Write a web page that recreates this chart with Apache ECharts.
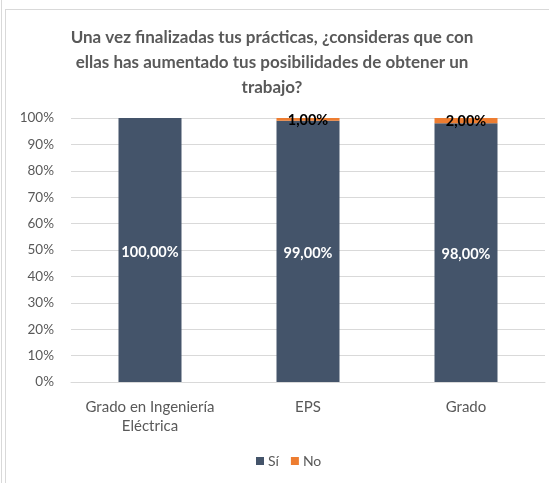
<!DOCTYPE html>
<html>
<head>
<meta charset="utf-8">
<script src="https://cdn.jsdelivr.net/npm/echarts@6/dist/echarts.min.js"></script>
<style>
  html, body { margin: 0; padding: 0; background: #fff; }
  #wrap { position: relative; width: 549px; height: 483px; }
  #chart { width: 549px; height: 483px; }
  .edge { position: absolute; background: #d9d9d9; pointer-events: none; }
</style>
</head>
<body>
<div id="wrap">
  <div id="chart"></div>
  <div class="edge" style="left:1px; top:0; width:1px; height:483px;"></div>
  <div class="edge" style="left:5px; top:9px; width:1px; height:474px;"></div>
  <div class="edge" style="left:5px; top:9px; width:544px; height:1px;"></div>
</div>
<script>
// valores
const categories = ['Grado en Ingeniería\nEléctrica', 'EPS', 'Grado']
const siValues = [100, 99, 98]
const noValues = [0, 1, 2]
const seriesNames = ['Sí', 'No']
const titleText = 'Una vez finalizadas tus prácticas, ¿consideras que con\nellas has aumentado tus posibilidades de obtener un\ntrabajo?'

const textColor = '#595959'
const fontFamily = 'Lato, "Open Sans", sans-serif'

// formato de etiqueta al estilo Excel: 99,00%
function pct(v) {
  if (!v) return ''
  return v.toFixed(2).replace('.', ',') + '%'
}

const chart = echarts.init(document.getElementById('chart'))

const option = {
  backgroundColor: 'transparent',
  animation: false,
  // título centrado línea a línea
  graphic: [{
    type: 'text',
    x: 272,
    y: 25,
    style: {
      text: titleText,
      align: 'center',
      verticalAlign: 'top',
      fontFamily: fontFamily,
      fontSize: 17,
      fontWeight: 'bold',
      lineHeight: 25,
      fill: textColor
    }
  }],
  legend: {
    data: seriesNames,
    left: 256,
    top: 454,
    padding: 0,
    itemWidth: 8,
    itemHeight: 8,
    itemGap: 12,
    icon: 'rect',
    textStyle: {
      fontFamily: fontFamily,
      fontSize: 14,
      color: textColor,
      padding: [0, 0, 0, -1]
    }
  },
  grid: {
    left: 71,
    right: 4,
    top: 118,
    height: 264
  },
  xAxis: {
    type: 'category',
    data: categories,
    axisLine: { show: true, lineStyle: { color: '#d9d9d9', width: 1 } },
    axisTick: { show: false },
    axisLabel: {
      interval: 0,
      margin: 16,
      fontFamily: fontFamily,
      fontSize: 15,
      lineHeight: 19,
      color: textColor
    }
  },
  yAxis: {
    type: 'value',
    min: 0,
    max: 100,
    interval: 10,
    axisLine: { show: false },
    axisTick: { show: false },
    splitLine: { lineStyle: { color: '#d9d9d9', width: 1 } },
    axisLabel: {
      formatter: '{value}%',
      margin: 17,
      fontFamily: fontFamily,
      fontSize: 13.5,
      color: textColor
    }
  },
  series: [
    {
      name: seriesNames[0],
      type: 'bar',
      stack: 'total',
      data: siValues,
      barWidth: 63,
      itemStyle: { color: '#44546a' },
      label: {
        show: true,
        position: 'inside',
        offset: [0, 2],
        formatter: (p) => pct(p.value),
        fontFamily: fontFamily,
        fontSize: 14.5,
        fontWeight: 'bold',
        color: '#fff'
      }
    },
    {
      name: seriesNames[1],
      type: 'bar',
      stack: 'total',
      data: noValues,
      barWidth: 63,
      itemStyle: { color: '#ed7d31' },
      label: {
        show: true,
        position: 'inside',
        offset: [0, 1],
        formatter: (p) => pct(p.value),
        fontFamily: fontFamily,
        fontSize: 14.5,
        fontWeight: 'bold',
        color: '#000'
      }
    }
  ]
}

chart.setOption(option)
</script>
</body>
</html>
